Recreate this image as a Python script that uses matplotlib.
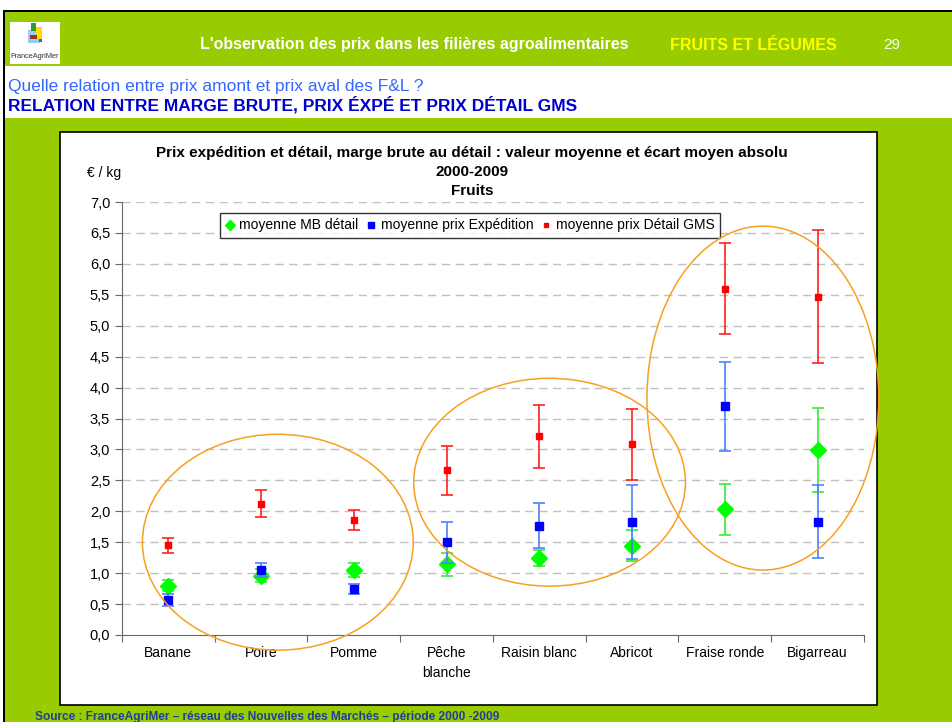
'''
Prix expedition / detail GMS / marge brute - fruits 2000-2009
'''
import matplotlib
matplotlib.use('Agg')
import matplotlib.pyplot as plt
from matplotlib.patches import Rectangle, Ellipse
from matplotlib.ticker import FuncFormatter, MultipleLocator
import numpy as np

plt.rcParams['font.family'] = ['Liberation Sans', 'DejaVu Sans']

fruits = ['Banane', 'Poire', 'Pomme', 'Pêche\nblanche', 'Raisin blanc',
          'Abricot', 'Fraise ronde', 'Bigarreau']

# moyenne MB detail (green)
mb_mean = [0.80, 0.96, 1.05, 1.14, 1.24, 1.44, 2.03, 2.99]
mb_err = [0.09, 0.10, 0.11, 0.18, 0.13, 0.25, 0.41, 0.68]
# moyenne prix expedition (blue)
exp_mean = [0.57, 1.05, 0.74, 1.50, 1.77, 1.83, 3.70, 1.83]
exp_err = [0.10, 0.12, 0.08, 0.33, 0.36, 0.60, 0.72, 0.59]
# moyenne prix detail GMS (red)
gms_mean = [1.45, 2.12, 1.86, 2.66, 3.21, 3.08, 5.60, 5.47]
gms_err = [0.12, 0.22, 0.16, 0.40, 0.51, 0.57, 0.73, 1.08]

green_bg = '#99CC00'
W, H = 953, 722


def box(fig, x0, y0, x1, y1, **kw):
    # rectangle given in pixels (top-left origin)
    fig.patches.append(Rectangle((x0 / W, 1 - y1 / H), (x1 - x0) / W, (y1 - y0) / H,
                                 transform=fig.transFigure, figure=fig, zorder=0, **kw))


fig = plt.figure(figsize=(9.53, 7.22), dpi=100)

# slide background
box(fig, 3, 10, W, 12, facecolor='black', edgecolor='none')
box(fig, 3, 10, 5, H, facecolor='black', edgecolor='none')
box(fig, 5, 12, W, 66, facecolor=green_bg, edgecolor='none')
box(fig, 5, 118, W, H, facecolor=green_bg, edgecolor='none')
box(fig, 60, 132, 877, 705, facecolor='white', edgecolor='black', linewidth=1.2)

# logo
box(fig, 10, 22, 60, 64, facecolor='white', edgecolor='none')
box(fig, 28, 30, 40, 43, facecolor='#99CCEE', edgecolor='none')
box(fig, 31, 23, 36, 31, facecolor='#339933', edgecolor='none')
box(fig, 36, 27, 42, 39, facecolor='#FFDD00', edgecolor='none')
box(fig, 30, 35, 37, 39, facecolor='#993333', edgecolor='none')
box(fig, 39, 39, 42, 42, facecolor='#3366CC', edgecolor='none')
fig.text(35 / W, 1 - 56 / H, 'FranceAgriMer', fontsize=5.3, color='#333333',
         va='center', ha='center')

# header texts
fig.text(200 / W, 1 - 45 / H, "L'observation des prix dans les filières agroalimentaires",
         fontsize=11.5, fontweight='bold', color='white', va='center')
fig.text(670 / W, 1 - 45 / H, 'FRUITS ET LÉGUMES', fontsize=11.5,
         fontweight='bold', color='#FFFF00', va='center')
fig.text(883 / W, 1 - 45 / H, '29', fontsize=11, color='white', va='center')
fig.text(8 / W, 1 - 86 / H, 'Quelle relation entre prix amont et prix aval des F&L ?',
         fontsize=12.5, color='#3366FF', va='center')
fig.text(8 / W, 1 - 105 / H, 'RELATION ENTRE MARGE BRUTE, PRIX ÉXPÉ ET PRIX DÉTAIL GMS',
         fontsize=12.5, fontweight='bold', color='#0000CC', va='center')
fig.text(35 / W, 1 - 717 / H,
         'Source : FranceAgriMer – réseau des Nouvelles des Marchés – période 2000 -2009',
         fontsize=8.6, fontweight='bold', color='#1F3F99', va='center')

# chart titles
fig.text(472 / W, 1 - 153 / H,
         'Prix expédition et détail, marge brute au détail : valeur moyenne et écart moyen absolu',
         fontsize=11, fontweight='bold', ha='center', va='center')
fig.text(472 / W, 1 - 172 / H, '2000-2009', fontsize=11, fontweight='bold',
         ha='center', va='center')
fig.text(472 / W, 1 - 191 / H, 'Fruits', fontsize=11, fontweight='bold',
         ha='center', va='center')
fig.text(104 / W, 1 - 173 / H, '€ / kg', fontsize=10, ha='center', va='center')

ax = fig.add_axes([122 / W, 1 - 635 / H, (864 - 122) / W, (635 - 202) / H])
ax.set_zorder(2)
ax.set_facecolor('none')
x = np.arange(len(fruits))

ax.errorbar(x, mb_mean, yerr=mb_err, fmt='D', color='#00FF00', ecolor='#33EE33',
            ms=8, capsize=4, elinewidth=1.2, capthick=1.2, zorder=3,
            label='moyenne MB détail')
ax.errorbar(x, exp_mean, yerr=exp_err, fmt='s', color='#0000FF', ecolor='#4F7FFF',
            ms=5.5, capsize=4, elinewidth=1.2, capthick=1.2, zorder=4,
            label='moyenne prix Expédition')
ax.errorbar(x, gms_mean, yerr=gms_err, fmt='s', color='#FF0000', ecolor='#FF2020',
            ms=3.8, capsize=4, elinewidth=1.2, capthick=1.2, zorder=5,
            label='moyenne prix Détail GMS')

# orange groupings
for cx, cy, w, h in [(1.18, 1.50, 2.92, 3.49), (4.11, 2.47, 2.93, 3.36),
                     (6.41, 3.83, 2.50, 5.56)]:
    ax.add_patch(Ellipse((cx, cy), w, h, fill=False, edgecolor='#F7A020',
                         linewidth=1.1, clip_on=False, zorder=6))

ax.set_xlim(-0.5, len(fruits) - 0.5)
ax.set_ylim(0, 7)
ax.yaxis.set_major_locator(MultipleLocator(0.5))
ax.yaxis.set_major_formatter(FuncFormatter(lambda v, p: f'{v:.1f}'.replace('.', ',')))
for v in np.arange(0.5, 7.01, 0.5):
    ax.axhline(v, color='#C0C0C0', linestyle=(0, (6, 4)), linewidth=1, zorder=1)

ax.set_xticks(np.arange(-0.5, len(fruits), 1))
ax.set_xticklabels([])
ax.set_xticks(x, minor=True)
ax.set_xticklabels(fruits, minor=True, fontsize=10)
ax.tick_params(axis='x', which='minor', length=0, pad=8)
ax.tick_params(axis='x', which='major', length=5, direction='out', color='#666666')
ax.tick_params(axis='y', length=5, labelsize=10.5, color='#666666')
for lab in ax.get_xticklabels(minor=True):
    lab.set_verticalalignment('top')
    lab.set_linespacing(1.5)

for s in ['top', 'right']:
    ax.spines[s].set_visible(False)
ax.spines['left'].set_color('#666666')
ax.spines['bottom'].set_color('#666666')

handles, labels = ax.get_legend_handles_labels()
handles = [h[0] for h in handles]
leg = ax.legend(handles, labels, loc='upper center', bbox_to_anchor=(0.469, 0.975),
                ncol=3, fontsize=10, frameon=True, fancybox=False, edgecolor='black',
                handlelength=0.6, handletextpad=0.4, columnspacing=0.6,
                borderpad=0.4, markerscale=0.7, borderaxespad=0)
leg.get_frame().set_linewidth(1.0)

fig.savefig('out.png', dpi=100)
